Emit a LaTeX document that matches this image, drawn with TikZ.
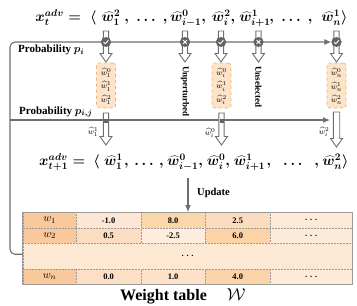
\documentclass[tikz,border=0pt]{standalone}
\usepackage[no-math]{fontspec}
\setmainfont{Liberation Serif}
\usetikzlibrary{arrows.meta}
\definecolor{lg}{HTML}{6E6E6E}
\definecolor{mkc}{HTML}{646464}
\definecolor{ob}{HTML}{F2B170}
\definecolor{of}{HTML}{FDE3C8}
\definecolor{tg}{HTML}{9A9A9A}
\definecolor{cw}{HTML}{F9C89B}
\definecolor{ca}{HTML}{FDE7D4}
\definecolor{cb}{HTML}{FBD6A8}
\definecolor{cc}{HTML}{FCDCBE}
\definecolor{cd}{HTML}{FEEAD8}
\definecolor{ce}{HTML}{FCDDC2}
\definecolor{cf}{HTML}{FEEDDD}
\definecolor{cg}{HTML}{FBD3A4}
\definecolor{cm}{HTML}{FDE8D3}
\definecolor{ch}{HTML}{FCDFC5}
\definecolor{ci}{HTML}{FDE2C9}
\definecolor{cj}{HTML}{FBD5A9}
\tikzset{
 ln/.style={draw=lg, line width=1.1pt},
 tipa/.style={-{Latex[length=7pt,width=6pt]}},
 hol/.style={draw=lg, fill=white, line width=0.9pt, line join=miter},
 mk/.style={circle, fill=mkc, minimum size=10pt, inner sep=0pt},
 sqm/.style={rectangle, fill=mkc, minimum size=4pt, inner sep=0pt},
 obox/.style={draw=ob, dashed, fill=of, rounded corners=2.5pt, line width=0.6pt, minimum width=19pt, minimum height=45pt, inner sep=0pt},
 form/.style={font=\fontsize{14}{17}\selectfont\boldmath, inner sep=0pt, anchor=base},
 formw/.style={form, anchor=base west},
 plab/.style={font=\bfseries\boldmath\fontsize{11}{13}\selectfont, inner sep=0pt, anchor=base west},
 vlab/.style={font=\bfseries\fontsize{9}{11}\selectfont, rotate=-90, anchor=west, inner sep=0pt},
 smallm/.style={font=\fontsize{8.5}{10}\selectfont, inner sep=0pt},
 cell/.style={draw=tg, densely dotted, line width=0.5pt, anchor=north west, inner sep=0pt, font=\bfseries\fontsize{8.5}{10}\selectfont},
 chk/.style={draw=white, line width=0.9pt, line cap=round, line join=round},
}
\newcommand\hollowarr[4]{%
 \draw[hol] ({#1-#4},#2) -- ({#1+#4},#2) -- ({#1+#4},{#3-8.5}) -- ({#1+6},{#3-8.5}) -- (#1,#3) -- ({#1-6},{#3-8.5}) -- ({#1-#4},{#3-8.5}) -- cycle;}
\newcommand\tdots{\textbf{.\,\,.\,\,.}}
\begin{document}
\begin{tikzpicture}[x=1pt,y=-1pt]
\useasboundingbox (0,0) rectangle (357,306);

% ---------- table ----------
\node[cell, fill=cw, minimum width=53.3pt, minimum height=16pt] (c11) at (22.7,212) {\fontsize{11}{12}\selectfont$w_1$};
\node[cell, fill=ca, minimum width=64.7pt, minimum height=16pt] (c12) at (76,212) {-1.0};
\node[cell, fill=cb, minimum width=64.3pt, minimum height=16pt] (c13) at (140.7,212) {8.0};
\node[cell, fill=cc, minimum width=65pt, minimum height=16pt] (c14) at (205,212) {2.5};
\node[cell, fill=cd, minimum width=82pt, minimum height=16pt] (c15) at (270,212) {\tdots};
\node[cell, fill=cw, minimum width=53.3pt, minimum height=15pt] (c21) at (22.7,228) {\fontsize{11}{12}\selectfont$w_2$};
\node[cell, fill=ce, minimum width=64.7pt, minimum height=15pt] (c22) at (76,228) {0.5};
\node[cell, fill=cf, minimum width=64.3pt, minimum height=15pt] (c23) at (140.7,228) {-2.5};
\node[cell, fill=cg, minimum width=65pt, minimum height=15pt] (c24) at (205,228) {6.0};
\node[cell, fill=cd, minimum width=82pt, minimum height=15pt] (c25) at (270,228) {\tdots};
\node[cell, fill=cm, minimum width=329.3pt, minimum height=26pt] (cmid) at (22.7,243) {\tdots};
\node[cell, fill=cw, minimum width=53.3pt, minimum height=15pt] (c41) at (22.7,269) {\fontsize{11}{12}\selectfont$w_n$};
\node[cell, fill=ch, minimum width=64.7pt, minimum height=15pt] (c42) at (76,269) {0.0};
\node[cell, fill=ci, minimum width=64.3pt, minimum height=15pt] (c43) at (140.7,269) {1.0};
\node[cell, fill=cj, minimum width=65pt, minimum height=15pt] (c44) at (205,269) {4.0};
\node[cell, fill=cd, minimum width=82pt, minimum height=15pt] (c45) at (270,269) {\tdots};
\draw[draw=tg, line width=0.8pt] (c11.north west) rectangle (c45.south east);
\node[font=\bfseries\fontsize{16}{18}\selectfont, inner sep=0pt, anchor=base west] (wt) at (120,300) {Weight table\quad\ $\mathcal{W}$};

% ---------- connectors ----------
\node[mk] (m1) at (106,42) {};
\node[mk] (m2) at (185,42) {};
\node[mk] (m3) at (221,42) {};
\node[mk] (m4) at (258.5,42) {};
\node[mk] (m5) at (336.5,42) {};
\coordinate (tl) at (10,42);
\coordinate (j2) at (10,120);
\coordinate (e2) at (330,120);
\coordinate (u0) at (188,178);
\draw[ln, tipa, rounded corners=5pt] ([yshift=2pt]cmid.west) -| (tl) -- (m5.west);
\draw[ln, tipa] (j2) -- (e2);
\draw[ln, tipa] (u0) -- (u0 |- c13.north);

% ---------- hollow arrows ----------
\hollowarr{106}{31}{62}{2.6}
\hollowarr{185}{31}{62}{2.6}
\hollowarr{221}{31}{62}{2.6}
\hollowarr{258.5}{31}{62}{2.6}
\hollowarr{336.5}{31}{62}{2.6}
\hollowarr{106}{113}{145}{2.6}
\hollowarr{221.5}{113}{145}{2.6}
\hollowarr{336.5}{112}{147}{3.2}

% ---------- markers ----------
\node[mk] at (m1) {};
\node[mk] at (m2) {};
\node[mk] at (m3) {};
\node[mk] at (m4) {};
\node[mk] at (m5) {};
\foreach \m in {m1,m3,m5}{\draw[chk, shift={(\m.center)}] (-2.4,0.1) -- (-0.8,1.8) -- (2.4,-1.7);}
\foreach \m in {m2,m4}{\draw[chk, shift={(\m.center)}] (-1.8,-1.8) -- (1.8,1.8) (-1.8,1.8) -- (1.8,-1.8);}
\node[sqm] (s1) at (106,121) {};
\node[sqm] (s2) at (221.5,121) {};

% ---------- orange boxes ----------
\node[obox] (b1) at (106,85.5) {};
\node[obox] (b3) at (221.5,85.5) {};
\node[obox] (b5) at (336.5,85.5) {};
\node[smallm] (b1a) at (106,73) {$\widehat{w}_1^0$};
\node[smallm] (b1b) at (106,86.5) {$\widehat{w}_1^1$};
\node[smallm] (b1c) at (106,100) {$\widehat{w}_1^2$};
\node[smallm] (b3a) at (221.5,73) {$\widehat{w}_i^0$};
\node[smallm] (b3b) at (221.5,86.5) {$\widehat{w}_i^1$};
\node[smallm] (b3c) at (221.5,100) {$\widehat{w}_i^2$};
\node[smallm] (b5a) at (336.5,73) {$\widehat{w}_n^0$};
\node[smallm] (b5b) at (336.5,86.5) {$\widehat{w}_n^1$};
\node[smallm] (b5c) at (336.5,100) {$\widehat{w}_n^2$};

% ---------- vertical labels ----------
\node[vlab] (unp) at (185,66) {Unperturbed};
\node[vlab] (uns) at (258.5,66) {Unselected};

% ---------- labels ----------
\node[plab] (p1) at (18,52.5) {Probability $p_i$};
\node[plab] (p2) at (19,114) {Probability $p_{i,j}$};
\node[smallm] (l1) at (93,132) {$\widehat{w}_1^1$};
\node[smallm] (l3) at (210,133) {$\widehat{w}_i^0$};
\node[smallm] (l5) at (324,132) {$\widehat{w}_i^2$};
\node[font=\bfseries\fontsize{10.5}{12}\selectfont, inner sep=0pt, anchor=west] (upd) at (197,193) {Update};

% ---------- formulas ----------
\node[form] (t0) at (66,21.5) {$x_t^{adv} = \;\langle$};
\node[form] (t1) at (111,21.5) {$\widehat{w}_1^2$};
\node[form] (t2) at (146,21.5) {$,\;\dots\;,$};
\node[form] (t3) at (188,21.5) {$\widehat{w}_{i-1}^0,$};
\node[form] (t4) at (223.5,21.5) {$\widehat{w}_i^2,$};
\node[form] (t5) at (255,21.5) {$\widehat{w}_{i+1}^1$};
\node[form] (t6) at (291,21.5) {$,\;\dots\;,$};
\node[form] (t7) at (334.5,21.5) {$\widehat{w}_n^1\rangle$};

\node[formw] (n0) at (39,165.5) {$x_{t+1}^{adv} = \ \langle$};
\node[formw] (n1) at ([xshift=4pt]n0.base east) {$\widehat{w}_1^1$};
\node[formw] (n2) at ([xshift=1pt]n1.base east) {$,\,\dots\,,$};
\node[formw] (n3) at ([xshift=3pt]n2.base east) {$\widehat{w}_{i-1}^0,$};
\node[formw] (n4) at ([xshift=3.5pt]n3.base east) {$\widehat{w}_i^0,$};
\node[formw] (n5) at ([xshift=3.5pt]n4.base east) {$\widehat{w}_{i+1}^1$};
\node[formw] (n6) at ([xshift=1pt]n5.base east) {$,\;\;\dots\;\;,$};
\node[formw] (n7) at ([xshift=3pt]n6.base east) {$\widehat{w}_n^2\rangle$};
\end{tikzpicture}
\end{document}
